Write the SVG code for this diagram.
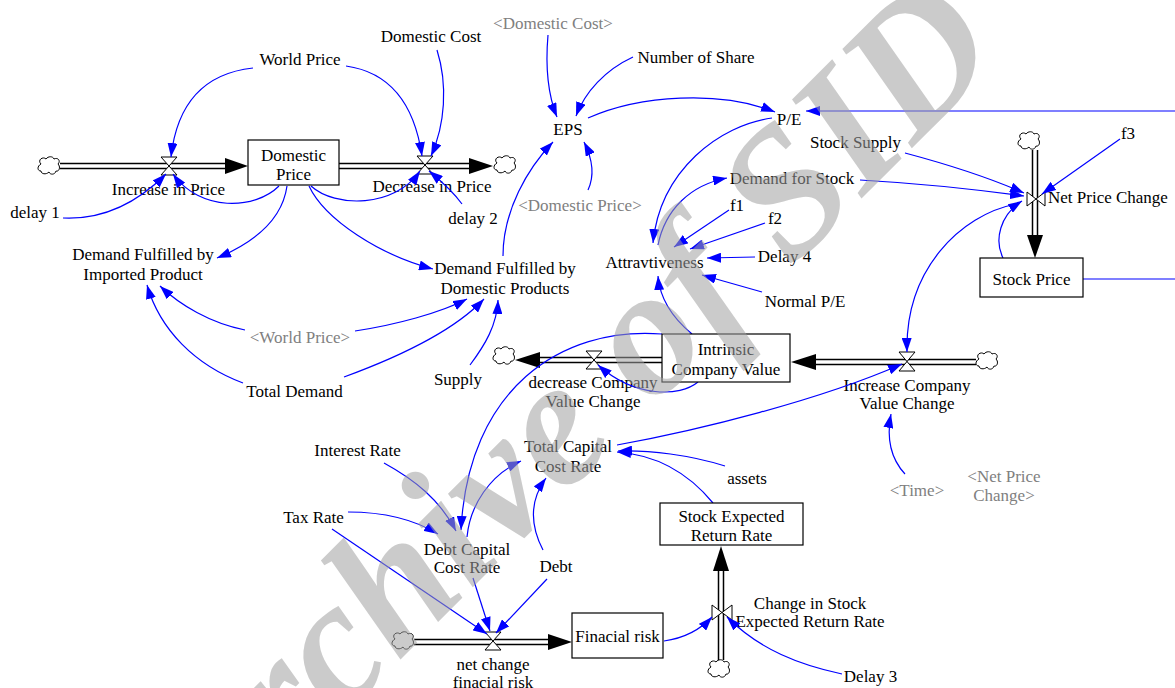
<svg xmlns="http://www.w3.org/2000/svg" xmlns:xlink="http://www.w3.org/1999/xlink" width="1175" height="688" viewBox="0 0 1175 688">
<style>
.t{font-family:"Liberation Serif","Times New Roman",serif;font-size:17px;fill:#000;text-anchor:middle}
.g{fill:#808080}
.lk{fill:none;stroke:#0000ff;stroke-width:1.2;marker-end:url(#ah)}
.ln{fill:none;stroke:#0000ff;stroke-width:1.2}
.box{fill:#fff;stroke:#000;stroke-width:1.2}
.po{fill:none;stroke:#000;stroke-width:6.5}
.pi{fill:none;stroke:#fff;stroke-width:3.5}
.valve{fill:#fff;stroke:#000;stroke-width:1}
.fa{fill:#000}
</style>
<defs>
<marker id="ah" viewBox="0 0 14 10" refX="14" refY="5" markerWidth="14" markerHeight="10" markerUnits="userSpaceOnUse" orient="auto"><path d="M0,0 L14,5 L0,10 z" fill="#0000ff"/></marker>
<path id="cloud" d="M-8,-2 C-12,-6 -6,-10 -3,-7 C-1,-10 4,-10 5,-7 C9,-9 12,-5 9,-2 C12,1 10,6 7,5 C6,9 1,9 0,6 C-3,9 -8,8 -8,5 C-12,5 -12,0 -8,-2 Z" fill="#fff" stroke="#000" stroke-width="1"/>
</defs>
<rect width="1175" height="688" fill="#fff"/>

<!-- flows -->
<g id="flow-increase-in-price">
<path class="po" d="M60,166 H226"/><path class="pi" d="M60,166 H226"/>
<polygon class="fa" points="225,158 248,166 225,174"/>
<use xlink:href="#cloud" x="49" y="166"/>
<path class="valve" d="M161,157 L177,157 L161,175 L177,175 Z"/>
<text class="t" x="168.5" y="195">Increase in Price</text>
</g>
<g id="flow-decrease-in-price">
<path class="po" d="M339,166 H470"/><path class="pi" d="M339,166 H470"/>
<polygon class="fa" points="469,158 493,166 469,174"/>
<use xlink:href="#cloud" x="505" y="165"/>
<path class="valve" d="M417,156 L433,156 L417,174 L433,174 Z"/>
<text class="t" x="432" y="192">Decrease in Price</text>
</g>
<g id="flow-net-price-change">
<path class="po" d="M1035,150 V236"/><path class="pi" d="M1035,150 V236"/>
<polygon class="fa" points="1027,235 1035,258 1043,235"/>
<use xlink:href="#cloud" x="1029" y="141"/>
<path class="valve" d="M1027,192 L1027,206 L1045,192 L1045,206 Z"/>
<text class="t" x="1048" y="203" style="text-anchor:start">Net Price Change</text>
</g>
<g id="flow-increase-company-value-change">
<path class="po" d="M976,362 H815"/><path class="pi" d="M976,362 H815"/>
<polygon class="fa" points="816,354 791,362 816,370"/>
<use xlink:href="#cloud" x="987" y="361"/>
<path class="valve" d="M899,352 L915,352 L899,371 L915,371 Z"/>
<text class="t" x="907" y="391">Increase Company</text>
<text class="t" x="907" y="409">Value Change</text>
</g>
<g id="flow-decrease-company-value-change">
<path class="po" d="M662,360 H538"/><path class="pi" d="M662,360 H538"/>
<polygon class="fa" points="540,352 515,360 540,368"/>
<use xlink:href="#cloud" x="504" y="356"/>
<path class="valve" d="M586,351 L602,351 L586,369 L602,369 Z"/>
<text class="t" x="593" y="388">decrease Company</text>
<text class="t" x="593" y="407">Value Change</text>
</g>
<g id="flow-net-change-finacial-risk">
<path class="po" d="M414,642 H549"/><path class="pi" d="M414,642 H549"/>
<polygon class="fa" points="548,634 572,642 548,650"/>
<use xlink:href="#cloud" x="403" y="641"/>
<path class="valve" d="M485,632 L501,632 L485,650 L501,650 Z"/>
<text class="t" x="493" y="670">net change</text>
<text class="t" x="493" y="688">finacial risk</text>
</g>
<g id="flow-change-in-stock-expected-return-rate">
<path class="po" d="M721,660 V570"/><path class="pi" d="M721,660 V570"/>
<polygon class="fa" points="713,571 721,546 729,571"/>
<use xlink:href="#cloud" x="719" y="669"/>
<path class="valve" d="M712,605 L712,620 L732,605 L732,620 Z"/>
<text class="t" x="810" y="609">Change in Stock</text>
<text class="t" x="810" y="627">Expected Return Rate</text>
</g>

<!-- connectors -->
<g id="connectors">
<path class="lk" d="M253,68 Q180,76 171,157"/>
<path class="lk" d="M346,66 Q410,75 422,156"/>
<path class="lk" d="M437,50 C448,85 445,125 431,156"/>
<path class="lk" d="M311,186 C335,208 395,208 420,171"/>
<path class="lk" d="M462,204 Q452,190 429,171"/>
<path class="lk" d="M63,218 C105,220 140,200 166,174"/>
<path class="lk" d="M279,186 C255,210 200,212 173,174"/>
<path class="lk" d="M287,186 C283,215 260,240 217,258"/>
<path class="lk" d="M309,186 C325,220 380,255 433,269"/>
<path class="lk" d="M245,330 C210,323 180,305 160,286"/>
<path class="lk" d="M355,331 C395,325 440,313 467,299"/>
<path class="lk" d="M344,377 C385,362 450,335 484,299"/>
<path class="lk" d="M243,383 C195,365 160,330 147,285"/>
<path class="lk" d="M470,365 C485,345 497,325 498,300"/>
<path class="lk" d="M503,256 C503,210 528,168 553,142"/>
<path class="lk" d="M548,35 C545,70 548,95 557,117"/>
<path class="lk" d="M633,57 C605,70 585,92 576,116"/>
<path class="lk" d="M588,190 C595,175 592,158 584,142"/>
<path class="lk" d="M588,118 C640,95 720,90 775,112"/>
<path class="lk" d="M1175,111 L806,111"/>
<path class="ln" d="M1083,279 L1175,279"/>
<path class="lk" d="M772,118 C720,125 660,170 653,243"/>
<path class="lk" d="M658,245 C665,210 690,185 727,178"/>
<path class="lk" d="M729,210 L674,247"/>
<path class="lk" d="M765,223 L690,249"/>
<path class="lk" d="M755,257 L707,258"/>
<path class="lk" d="M762,292 L702,275"/>
<path class="lk" d="M692,334 C675,320 660,300 658,276"/>
<path class="lk" d="M860,180 C930,184 980,190 1024,196"/>
<path class="lk" d="M905,153 C950,165 990,178 1024,193"/>
<path class="lk" d="M1120,139 L1042,194"/>
<path class="lk" d="M1003,258 C994,240 1000,215 1022,201"/>
<path class="lk" d="M1016,204 C960,215 905,270 907,352"/>
<path class="lk" d="M617,445 C700,430 820,400 902,364"/>
<path class="lk" d="M905,474 C892,460 886,440 891,414"/>
<path class="lk" d="M698,382 C680,397 635,398 598,365"/>
<path class="lk" d="M662,334 C560,326 468,390 461,530"/>
<path class="lk" d="M384,463 C415,480 440,500 456,531"/>
<path class="lk" d="M348,512 C385,512 415,520 438,534"/>
<path class="lk" d="M332,529 L487,634"/>
<path class="lk" d="M473,578 L490,631"/>
<path class="lk" d="M547,579 L496,633"/>
<path class="lk" d="M467,537 C470,505 490,475 521,461"/>
<path class="lk" d="M543,550 C530,525 530,500 546,478"/>
<path class="lk" d="M713,503 C690,475 660,455 617,452"/>
<path class="lk" d="M725,466 C690,455 650,450 618,451"/>
<path class="lk" d="M664,641 C685,638 700,630 712,617"/>
<path class="lk" d="M842,674 C800,665 760,650 727,617"/>
</g>

<!-- nodes -->
<g id="domestic-price"><rect class="box" x="248" y="140" width="91" height="45"/><text class="t" x="293.5" y="161">Domestic</text><text class="t" x="293.5" y="180">Price</text></g>
<g id="stock-price"><rect class="box" x="980" y="258" width="103" height="39"/><text class="t" x="1031.5" y="285">Stock Price</text></g>
<g id="intrinsic-company-value"><rect class="box" x="662" y="334" width="128" height="48"/><text class="t" x="726" y="355">Intrinsic</text><text class="t" x="726" y="375">Company Value</text></g>
<g id="stock-expected-return-rate"><rect class="box" x="660" y="503" width="143" height="42"/><text class="t" x="731.5" y="522">Stock Expected</text><text class="t" x="731.5" y="541">Return Rate</text></g>
<g id="finacial-risk"><rect class="box" x="572" y="613" width="91" height="45"/><text class="t" x="617.5" y="642">Finacial risk</text></g>

<g id="world-price"><text class="t" x="300" y="65">World Price</text></g>
<g id="domestic-cost"><text class="t" x="431" y="42">Domestic Cost</text></g>
<g id="domestic-cost-shadow"><text class="t g" x="553" y="29">&lt;Domestic Cost&gt;</text></g>
<g id="number-of-share"><text class="t" x="696" y="63">Number of Share</text></g>
<g id="eps"><text class="t" x="568" y="135">EPS</text></g>
<g id="domestic-price-shadow"><text class="t g" x="580" y="211">&lt;Domestic Price&gt;</text></g>
<g id="pe"><text class="t" x="789" y="125">P/E</text></g>
<g id="stock-supply"><text class="t" x="855.5" y="148">Stock Supply</text></g>
<g id="f3"><text class="t" x="1128" y="139">f3</text></g>
<g id="demand-for-stock"><text class="t" x="792" y="184">Demand for Stock</text></g>
<g id="f1"><text class="t" x="737" y="211">f1</text></g>
<g id="f2"><text class="t" x="775" y="224">f2</text></g>
<g id="delay-4"><text class="t" x="784.5" y="262">Delay 4</text></g>
<g id="normal-pe"><text class="t" x="805" y="307">Normal P/E</text></g>
<g id="attravtiveness"><text class="t" x="654.5" y="268">Attravtiveness</text></g>
<g id="delay-1"><text class="t" x="35" y="218">delay 1</text></g>
<g id="delay-2"><text class="t" x="473" y="224">delay 2</text></g>
<g id="demand-imported"><text class="t" x="143" y="260">Demand Fulfilled by</text><text class="t" x="143" y="280">Imported Product</text></g>
<g id="demand-domestic"><text class="t" x="505" y="274">Demand Fulfilled by</text><text class="t" x="505" y="294">Domestic Products</text></g>
<g id="world-price-shadow"><text class="t g" x="300" y="343">&lt;World Price&gt;</text></g>
<g id="total-demand"><text class="t" x="294.5" y="397">Total Demand</text></g>
<g id="supply"><text class="t" x="458" y="385">Supply</text></g>
<g id="total-capital-cost-rate"><text class="t" x="568" y="452">Total Capital</text><text class="t" x="568" y="472">Cost Rate</text></g>
<g id="assets"><text class="t" x="747" y="484">assets</text></g>
<g id="time-shadow"><text class="t g" x="917" y="496">&lt;Time&gt;</text></g>
<g id="net-price-change-shadow"><text class="t g" x="1004" y="482">&lt;Net Price</text><text class="t g" x="1004" y="501">Change&gt;</text></g>
<g id="interest-rate"><text class="t" x="357.5" y="456">Interest Rate</text></g>
<g id="tax-rate"><text class="t" x="313.5" y="523">Tax Rate</text></g>
<g id="debt-capital-cost-rate"><text class="t" x="467" y="555">Debt Capital</text><text class="t" x="467" y="573">Cost Rate</text></g>
<g id="debt"><text class="t" x="556" y="572">Debt</text></g>
<g id="delay-3"><text class="t" x="870.5" y="682">Delay 3</text></g>

<!-- watermark -->
<text transform="translate(205,855) rotate(-45)" x="0" y="0" font-family="Liberation Serif, serif" font-style="italic" font-weight="bold" font-size="182" fill="#a0a0a0" fill-opacity="0.55">Archive of SID</text>
</svg>
